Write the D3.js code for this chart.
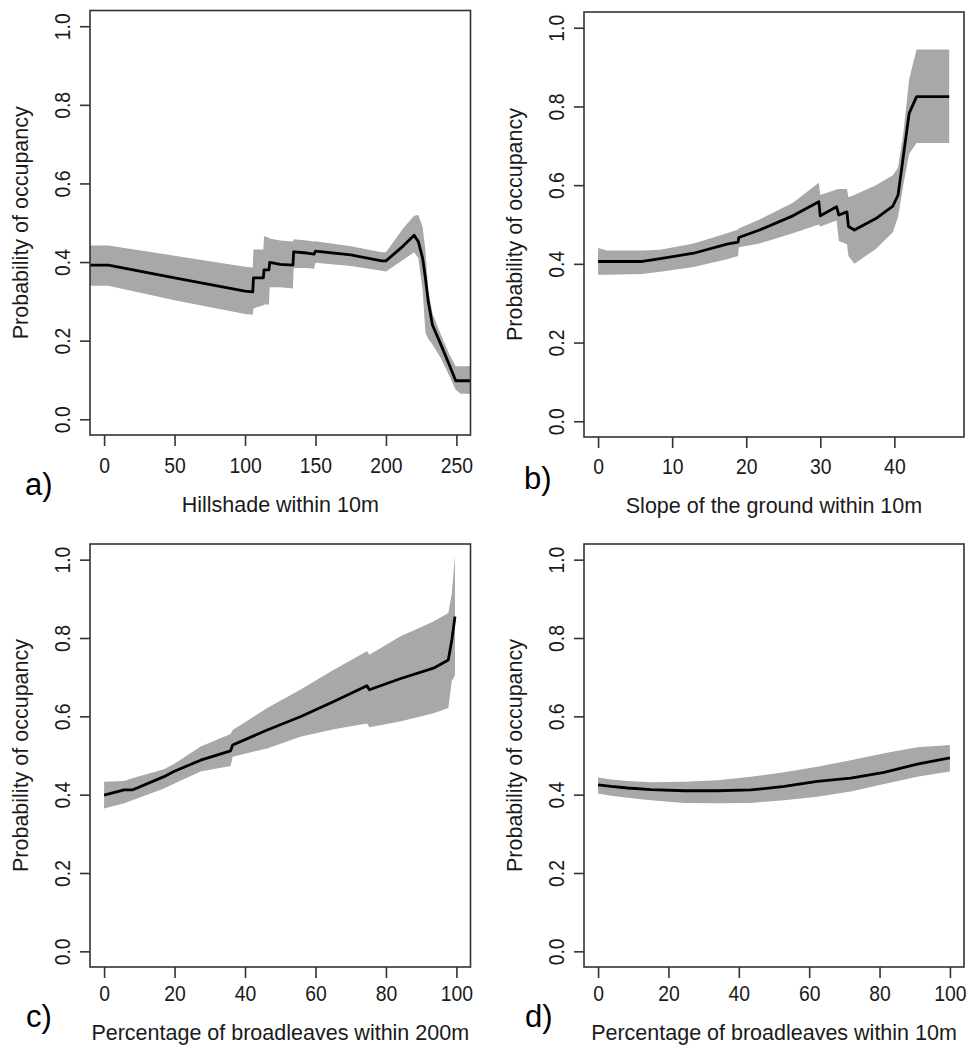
<!DOCTYPE html>
<html>
<head>
<meta charset="utf-8">
<script src="https://cdn.jsdelivr.net/npm/d3@7"></script>
<style>
  html, body { margin: 0; padding: 0; background: #fff; }
  svg { display: block; font-family: "Liberation Sans", Arial, sans-serif; }
</style>
</head>
<body>
<svg id="fig" width="968" height="1056"></svg>
<script>
// ---- Data: partial responses of occupancy probability (fit with lower/upper band) ----

// a) Hillshade within 10m
const hillX   = [-10, 3, 50, 100, 105.5, 106, 113, 113.5, 117, 117.5, 125, 134, 134.5, 144, 149, 150, 175, 197, 200, 212, 220, 223, 226, 228, 230, 233, 239, 245, 249.5, 253, 260];
const hillFit = [0.392, 0.392, 0.360, 0.326, 0.324, 0.360, 0.360, 0.380, 0.380, 0.399, 0.394, 0.392, 0.426, 0.423, 0.420, 0.428, 0.418, 0.403, 0.403, 0.440, 0.468, 0.452, 0.410, 0.360, 0.300, 0.240, 0.190, 0.138, 0.098, 0.098, 0.098];
const hillLo  = [0.340, 0.340, 0.303, 0.268, 0.266, 0.282, 0.290, 0.292, 0.292, 0.336, 0.336, 0.333, 0.385, 0.385, 0.383, 0.398, 0.390, 0.378, 0.376, 0.405, 0.425, 0.410, 0.330, 0.220, 0.205, 0.190, 0.155, 0.110, 0.075, 0.065, 0.065];
const hillHi  = [0.442, 0.442, 0.416, 0.388, 0.386, 0.432, 0.432, 0.466, 0.462, 0.460, 0.455, 0.452, 0.458, 0.455, 0.452, 0.453, 0.440, 0.425, 0.425, 0.485, 0.518, 0.520, 0.490, 0.430, 0.330, 0.270, 0.215, 0.165, 0.135, 0.135, 0.135];

// b) Slope of the ground within 10m
const slopeX   = [0, 1.2, 6, 8.4, 12.9, 17.4, 18.9, 19.0, 21.8, 26.3, 29.8, 30.0, 32.2, 32.5, 33.6, 33.8, 34.6, 37.5, 39.8, 40.5, 41.2, 42.0, 43.0, 47.4];
const slopeFit = [0.406, 0.406, 0.406, 0.413, 0.427, 0.450, 0.455, 0.467, 0.486, 0.522, 0.558, 0.522, 0.545, 0.524, 0.532, 0.495, 0.486, 0.515, 0.547, 0.575, 0.672, 0.783, 0.825, 0.825];
const slopeLo  = [0.372, 0.372, 0.374, 0.380, 0.392, 0.412, 0.420, 0.442, 0.452, 0.478, 0.500, 0.495, 0.510, 0.458, 0.450, 0.420, 0.400, 0.438, 0.480, 0.520, 0.600, 0.680, 0.707, 0.707];
const slopeHi  = [0.440, 0.434, 0.434, 0.436, 0.452, 0.478, 0.487, 0.490, 0.513, 0.555, 0.606, 0.575, 0.589, 0.590, 0.590, 0.569, 0.575, 0.600, 0.625, 0.645, 0.730, 0.870, 0.945, 0.945];

// c) Percentage of broadleaves within 200m
const broad200X   = [0, 5.7, 8, 17, 19.8, 27.4, 35.9, 36.5, 46.3, 55.7, 65.2, 74.6, 75.3, 84, 93.5, 97.7, 98.7, 99.6];
const broad200Fit = [0.399, 0.412, 0.412, 0.446, 0.459, 0.488, 0.512, 0.527, 0.565, 0.599, 0.638, 0.678, 0.668, 0.696, 0.723, 0.744, 0.795, 0.855];
const broad200Lo  = [0.365, 0.378, 0.386, 0.416, 0.428, 0.459, 0.473, 0.497, 0.518, 0.548, 0.567, 0.582, 0.572, 0.587, 0.608, 0.621, 0.690, 0.705];
const broad200Hi  = [0.433, 0.435, 0.442, 0.465, 0.478, 0.523, 0.555, 0.565, 0.621, 0.668, 0.719, 0.766, 0.757, 0.804, 0.842, 0.864, 0.915, 1.008];

// d) Percentage of broadleaves within 10m
const broad10X   = [0, 3.7, 8.4, 15, 24.5, 34, 43.4, 52.9, 62.3, 71.8, 81.3, 90.7, 100];
const broad10Fit = [0.425, 0.421, 0.417, 0.413, 0.410, 0.410, 0.412, 0.421, 0.434, 0.442, 0.457, 0.478, 0.494];
const broad10Lo  = [0.403, 0.397, 0.392, 0.386, 0.379, 0.378, 0.379, 0.386, 0.395, 0.408, 0.427, 0.446, 0.459];
const broad10Hi  = [0.444, 0.439, 0.435, 0.432, 0.433, 0.437, 0.446, 0.457, 0.471, 0.488, 0.506, 0.521, 0.527];

// Axis ticks and labels
const probTicks      = [0, 0.2, 0.4, 0.6, 0.8, 1.0];
const hillTicks      = [0, 50, 100, 150, 200, 250];
const slopeTicks     = [0, 10, 20, 30, 40];
const broadTicks     = [0, 20, 40, 60, 80, 100];
const yTitle         = "Probability of occupancy";
const xTitles        = ["Hillshade within 10m", "Slope of the ground within 10m",
                        "Percentage of broadleaves within 200m", "Percentage of broadleaves within 10m"];
const panelLetters   = ["a)", "b)", "c)", "d)"];

// ---- Layout of the four panels ----
const panels = [
  { x: hillX, fit: hillFit, lo: hillLo, hi: hillHi, xDomain: [-10, 260], ticks: hillTicks,
    box: { l: 90, r: 470.5, t: 10.5, b: 435 }, tickBase: 473.5, titleBase: 511.5, letterX: 25, letterBase: 495 },
  { x: slopeX, fit: slopeFit, lo: slopeLo, hi: slopeHi, xDomain: [-1.9, 49.4], ticks: slopeTicks,
    box: { l: 584, r: 964, t: 12, b: 437 }, tickBase: 474, titleBase: 512.5, letterX: 524, letterBase: 489 },
  { x: broad200X, fit: broad200Fit, lo: broad200Lo, hi: broad200Hi, xDomain: [-4, 104], ticks: broadTicks,
    box: { l: 90, r: 470.5, t: 544, b: 967 }, tickBase: 1001, titleBase: 1039.5, letterX: 26, letterBase: 1027 },
  { x: broad10X, fit: broad10Fit, lo: broad10Lo, hi: broad10Hi, xDomain: [-4, 104], ticks: broadTicks,
    box: { l: 584, r: 964, t: 544, b: 967 }, tickBase: 1001, titleBase: 1039.5, letterX: 525, letterBase: 1027 }
];

const svg = d3.select("#fig");
const ink = "#1a1a1a";
const bandFill = "#a8a8a8";
const fontSize = 21.5;

panels.forEach((p, i) => {
  const { l, r, t, b } = p.box;
  const xs = d3.scaleLinear().domain(p.xDomain).range([l, r]);
  const ys = d3.scaleLinear().domain([-0.04, 1.04]).range([b, t]);
  const rows = p.x.map((xv, k) => ({ x: xv, fit: p.fit[k], lo: p.lo[k], hi: p.hi[k] }));

  const clipId = "clip" + i;
  svg.append("clipPath").attr("id", clipId)
    .append("rect").attr("x", l).attr("y", t).attr("width", r - l).attr("height", b - t);

  const g = svg.append("g");
  const plot = g.append("g").attr("clip-path", `url(#${clipId})`);

  // confidence band
  plot.append("path")
    .datum(rows)
    .attr("fill", bandFill)
    .attr("d", d3.area().x(d => xs(d.x)).y0(d => ys(d.lo)).y1(d => ys(d.hi)));

  // fitted response
  plot.append("path")
    .datum(rows)
    .attr("fill", "none")
    .attr("stroke", "#000")
    .attr("stroke-width", 2.8)
    .attr("stroke-linejoin", "round")
    .attr("d", d3.line().x(d => xs(d.x)).y(d => ys(d.fit)));

  // plot frame
  g.append("rect")
    .attr("x", l).attr("y", t).attr("width", r - l).attr("height", b - t)
    .attr("fill", "none").attr("stroke", "#333").attr("stroke-width", 1.6);

  // x axis
  const xAxis = g.append("g")
    .attr("transform", `translate(0,${b})`)
    .call(d3.axisBottom(xs).tickValues(p.ticks).tickSize(11).tickFormat(d3.format("d")));
  xAxis.select(".domain").remove();
  xAxis.selectAll(".tick line").attr("stroke", "#333").attr("stroke-width", 1.6);
  xAxis.selectAll(".tick text")
    .attr("fill", ink).attr("font-size", fontSize).attr("font-family", null)
    .attr("dy", null).attr("y", p.tickBase - b)
    .attr("transform", "scale(0.9,1)");

  // y axis
  const yAxis = g.append("g")
    .attr("transform", `translate(${l},0)`)
    .call(d3.axisLeft(ys).tickValues(probTicks).tickSize(10).tickFormat(d3.format(".1f")));
  yAxis.select(".domain").remove();
  yAxis.selectAll(".tick line").attr("stroke", "#333").attr("stroke-width", 1.6);
  yAxis.selectAll(".tick text")
    .attr("fill", ink).attr("font-size", fontSize).attr("font-family", null)
    .attr("x", 0).attr("y", 0).attr("dy", null)
    .attr("text-anchor", "middle")
    .attr("transform", "translate(-20,0) rotate(-90) scale(0.9,1)");

  // axis titles
  g.append("text")
    .attr("x", (l + r) / 2).attr("y", p.titleBase)
    .attr("text-anchor", "middle").attr("font-size", fontSize).attr("fill", ink)
    .text(xTitles[i]);
  g.append("text")
    .attr("transform", `translate(${l - 62},${(t + b) / 2}) rotate(-90)`)
    .attr("text-anchor", "middle").attr("font-size", fontSize).attr("fill", ink)
    .text(yTitle);

  // panel letter
  g.append("text")
    .attr("x", p.letterX).attr("y", p.letterBase)
    .attr("font-size", 31).attr("fill", "#000")
    .text(panelLetters[i]);
});
</script>
</body>
</html>
